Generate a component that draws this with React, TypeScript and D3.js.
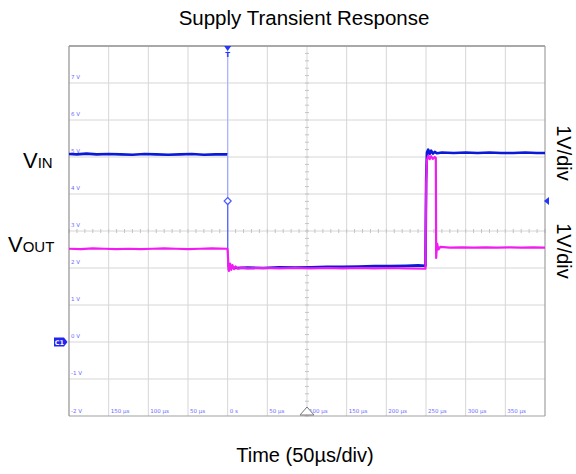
import React from "react";
import * as d3 from "d3";

const W = 576;
const H = 474;

const title = "Supply Transient Response";
const xAxisLabel = "Time (50µs/div)";
const scaleLabel = "1V/div";

// scope graticule
const voltGrid = [8, 7, 6, 5, 4, 3, 2, 1, 0, -1, -2];
const voltLabels = ["7 V", "6 V", "5 V", "4 V", "3 V", "2 V", "1 V", "0 V", "-1 V", "-2 V"];
const voltLabelValues = [7, 6, 5, 4, 3, 2, 1, 0, -1, -2];
const timeGrid = [-200, -150, -100, -50, 0, 50, 100, 150, 200, 250, 300, 350, 400];
const timeLabelValues = [-150, -100, -50, 0, 50, 100, 150, 200, 250, 300, 350];
const timeLabels = ["150 µs", "100 µs", "50 µs", "0 s", "50 µs", "100 µs", "150 µs", "200 µs", "250 µs", "300 µs", "350 µs"];

// markers
const triggerTime = 0;
const triggerLevel = 3.81;
const groundLevel = 0;
const centerTime = 100;
const centerVolt = 3;

// VIN trace (µs, V)
const vinBefore: [number, number][] = [
  [-200, 5.08], [-190, 5.07], [-178, 5.09], [-165, 5.07], [-150, 5.08], [-135, 5.07],
  [-120, 5.06], [-105, 5.08], [-90, 5.07], [-75, 5.06], [-60, 5.07], [-45, 5.08],
  [-30, 5.06], [-15, 5.07], [-0.3, 5.07],
];
const vinFallEdge: [number, number][] = [[0, 5.07], [0, 2.02]];
const vinAfter: [number, number][] = [
  [0.3, 2.0], [2, 1.98], [5, 2.02], [10, 2.0], [25, 2.01], [45, 2.0], [65, 2.02],
  [85, 2.01], [105, 2.02], [125, 2.03], [145, 2.03], [165, 2.04], [185, 2.05],
  [205, 2.05], [225, 2.06], [240, 2.07], [249.3, 2.06], [250.2, 4.4], [251.2, 5.12],
  [252.8, 5.2], [254.6, 5.08], [256.5, 5.17], [258.7, 5.09], [261, 5.14], [264, 5.1],
  [270, 5.12], [285, 5.11], [300, 5.12], [315, 5.11], [330, 5.12], [345, 5.11],
  [360, 5.11], [375, 5.12], [390, 5.11], [400, 5.11],
];

// VOUT trace (µs, V)
const voutTrace: [number, number][] = [
  [-200, 2.52], [-185, 2.51], [-170, 2.53], [-155, 2.52], [-140, 2.51], [-125, 2.52],
  [-110, 2.51], [-95, 2.52], [-80, 2.53], [-65, 2.52], [-50, 2.51], [-35, 2.52],
  [-20, 2.53], [-0.3, 2.52], [0.2, 2.4], [0.8, 2.1], [1.5, 1.92], [3, 2.12],
  [4.5, 1.95], [6, 2.08], [8, 1.97], [10, 2.04], [13, 1.98], [17, 2.01], [25, 1.99],
  [45, 2.0], [65, 1.99], [85, 2.0], [105, 1.99], [125, 2.0], [145, 1.99], [165, 2.0],
  [185, 1.99], [205, 2.0], [225, 1.99], [249.3, 1.98], [250.2, 4.3], [251.2, 4.92],
  [252.8, 5.04], [254.6, 4.94], [256.5, 5.02], [258.7, 4.95], [261, 5.0], [262.4, 4.97],
  [262.8, 2.27], [264, 2.66], [265.6, 2.5], [268, 2.57], [280, 2.55], [295, 2.56],
  [310, 2.55], [325, 2.56], [340, 2.55], [355, 2.56], [370, 2.55], [385, 2.56], [400, 2.55],
];

const FONT = "'Liberation Sans', Arial, sans-serif";
const SMALL = "'DejaVu Sans', Verdana, sans-serif";

export default function App() {
  const left = 69, right = 545, top = 46, bottom = 416;
  const x = d3.scaleLinear().domain([-200, 400]).range([left, right]);
  const y = d3.scaleLinear().domain([-2, 8]).range([bottom, top]);
  const line = d3
    .line<[number, number]>()
    .x((d) => x(d[0]))
    .y((d) => y(d[1]));

  const minorX = d3.range(-200, 400.01, 10);
  const minorY = d3.range(-2, 8.001, 0.2);

  const tx = x(triggerTime);
  const ty = y(triggerLevel);
  const gy = y(groundLevel);

  return (
    <svg width={W} height={H} style={{ display: "block", position: "absolute", left: 0, top: 0 }}>
      <rect x={0} y={0} width={W} height={H} fill="#ffffff" />
      <text x={304} y={25} textAnchor="middle" fontFamily={FONT} fontSize={20.5} fill="#000">
        {title}
      </text>

      {/* grid */}
      {timeGrid.slice(1, -1).map((t) => (
        <line key={"gx" + t} x1={x(t)} x2={x(t)} y1={top} y2={bottom} stroke="#d6d6d6" strokeWidth={1} />
      ))}
      {voltGrid.slice(1, -1).map((v) => (
        <line key={"gy" + v} x1={left} x2={right} y1={y(v)} y2={y(v)} stroke="#d6d6d6" strokeWidth={1} />
      ))}
      {minorX.map((t) => (
        <line key={"mx" + t} x1={x(t)} x2={x(t)} y1={y(centerVolt) - 2} y2={y(centerVolt) + 2} stroke="#c4c4c4" strokeWidth={1} />
      ))}
      {minorY.map((v) => (
        <line key={"my" + v} x1={x(centerTime) - 2} x2={x(centerTime) + 2} y1={y(v)} y2={y(v)} stroke="#c4c4c4" strokeWidth={1} />
      ))}

      {/* frame */}
      <line x1={left} x2={right} y1={top} y2={top} stroke="#a8a8a8" strokeWidth={2} />
      <line x1={left} x2={right} y1={bottom} y2={bottom} stroke="#a0a0a0" strokeWidth={1.2} />
      <line x1={left} x2={left} y1={top} y2={bottom} stroke="#909090" strokeWidth={1.2} />
      <line x1={right} x2={right} y1={top} y2={bottom} stroke="#a0a0a0" strokeWidth={1.2} />

      {/* scope labels */}
      {voltLabelValues.map((v, i) => (
        <text key={"vl" + v} x={left + 2} y={y(v) - (v === -2 ? 3 : 4)} fontFamily={SMALL} fontSize={5.5} fill="#6c6cff">
          {voltLabels[i]}
        </text>
      ))}
      {timeLabelValues.map((t, i) => (
        <text key={"tl" + t} x={x(t) + 2} y={bottom - 3} fontFamily={SMALL} fontSize={5.5} fill="#6c6cff">
          {timeLabels[i]}
        </text>
      ))}

      {/* trigger position line */}
      <line x1={tx} x2={tx} y1={top + 5} y2={y(5.07)} stroke="#aab2ff" strokeWidth={1.2} />

      {/* VIN */}
      <path d={line(vinBefore) || ""} fill="none" stroke="#0a1ad8" strokeWidth={2.6} strokeLinejoin="round" />
      <path d={line(vinFallEdge) || ""} fill="none" stroke="#9aa4ff" strokeWidth={1.2} />
      <line x1={tx} x2={tx} y1={ty} y2={y(2.02)} stroke="#5566ff" strokeWidth={1.2} />
      <path d={line(vinAfter) || ""} fill="none" stroke="#0a1ad8" strokeWidth={2.6} strokeLinejoin="round" />

      {/* VOUT */}
      <path d={line(voutTrace) || ""} fill="none" stroke="#f21cf2" strokeWidth={2.2} strokeLinejoin="round" />

      {/* trigger level diamond */}
      <path d={`M${tx},${ty - 3.5}L${tx + 3.5},${ty}L${tx},${ty + 3.5}L${tx - 3.5},${ty}Z`} fill="#ffffff" stroke="#4a5cff" strokeWidth={1.2} />

      {/* trigger T marker */}
      <path d={`M${tx - 3.5},${top}L${tx + 3.5},${top}L${tx},${top + 5}Z`} fill="#2236ff" />
      <text x={tx} y={top + 11} textAnchor="middle" fontFamily={SMALL} fontSize={7} fontWeight="bold" fill="#2236ff">T</text>

      {/* right trigger level arrow */}
      <path d={`M${right - 1},${ty}L${right + 4},${ty - 4}L${right + 4},${ty + 4}Z`} fill="#2236ff" />

      {/* C1 ground marker */}
      <path d={`M54,${gy - 4.5}L64,${gy - 4.5}L67.5,${gy}L64,${gy + 4.5}L54,${gy + 4.5}Z`} fill="#2424f0" />
      <text x={59.5} y={gy + 2.5} textAnchor="middle" fontFamily={SMALL} fontSize={6.5} fontWeight="bold" fill="#ffffff">C1</text>

      {/* horizontal trigger position marker */}
      <path d={`M${x(centerTime) - 7},${bottom - 1}L${x(centerTime) + 7},${bottom - 1}L${x(centerTime)},${bottom - 9}Z`} fill="#ffffff" stroke="#777" strokeWidth={1} />

      {/* channel labels */}
      <text x={23} y={168} fontFamily={FONT} fontSize={22} fill="#000">
        V<tspan fontSize={15}>IN</tspan>
      </text>
      <text x={8} y={252} fontFamily={FONT} fontSize={22} fill="#000">
        V<tspan fontSize={15}>OUT</tspan>
      </text>

      <text transform="translate(557,153) rotate(90)" textAnchor="middle" fontFamily={FONT} fontSize={20} fill="#000">
        {scaleLabel}
      </text>
      <text transform="translate(557,251) rotate(90)" textAnchor="middle" fontFamily={FONT} fontSize={20} fill="#000">
        {scaleLabel}
      </text>

      <text x={305} y={462} textAnchor="middle" fontFamily={FONT} fontSize={20} fill="#000">
        {xAxisLabel}
      </text>
    </svg>
  );
}
